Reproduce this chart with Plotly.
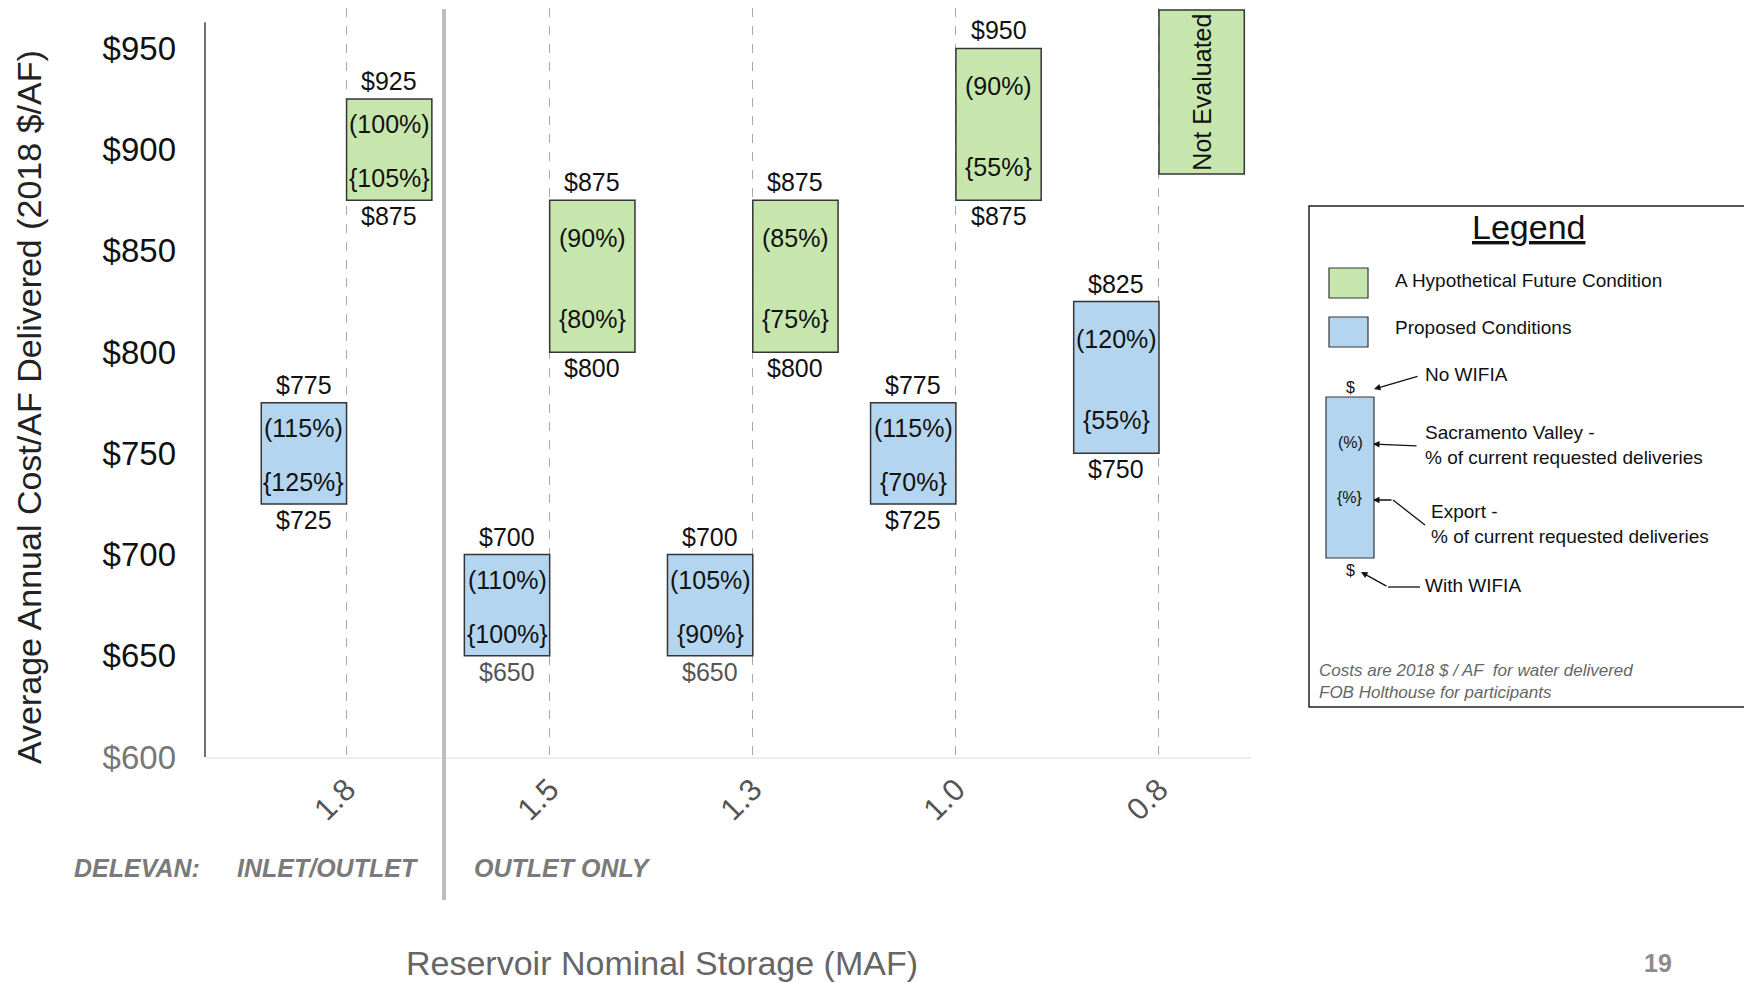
import plotly.graph_objects as go

# ---------------- data ----------------
storage_labels = ["1.8", "1.5", "1.3", "1.0", "0.8"]

# Proposed Conditions (blue): cost with WIFIA (low) / no WIFIA (high)
prop_low = [725, 650, 650, 725, 750]
prop_high = [775, 700, 700, 775, 825]
prop_sac = ["(115%)", "(110%)", "(105%)", "(115%)", "(120%)"]
prop_exp = ["{125%}", "{100%}", "{90%}", "{70%}", "{55%}"]

# A Hypothetical Future Condition (green); 0.8 MAF not evaluated
fut_storage = ["1.8", "1.5", "1.3", "1.0"]
fut_low = [875, 800, 800, 875]
fut_high = [925, 875, 875, 950]
fut_sac = ["(100%)", "(90%)", "(85%)", "(90%)"]
fut_exp = ["{105%}", "{80%}", "{75%}", "{55%}"]

not_eval_storage = ["0.8"]
not_eval_low = [888]
not_eval_high = [969]

y_ticks = [600, 650, 700, 750, 800, 850, 900, 950]

# ---------------- styling ----------------
FONT = "Liberation Sans"
GREEN = "#c6e6ad"
BLUE = "#b4d5ef"
EDGE = "#353535"
BW = 0.42  # box width in category units

W, H = 1744, 983
L, R, T, B = 205, 1251, 8, 757


def px(x):
    return (x - L) / (R - L)


def py(y):
    return (B - y) / (B - T)


xpos = {lab: i for i, lab in enumerate(storage_labels)}

fig = go.Figure()

fig.add_trace(go.Bar(
    x=[xpos[s] for s in storage_labels],
    y=[h - l for h, l in zip(prop_high, prop_low)],
    base=prop_low, width=BW, offset=-BW,
    marker=dict(color=BLUE, line=dict(color=EDGE, width=1.5)),
    showlegend=False, hoverinfo="skip"))

fig.add_trace(go.Bar(
    x=[xpos[s] for s in fut_storage],
    y=[h - l for h, l in zip(fut_high, fut_low)],
    base=fut_low, width=BW, offset=0,
    marker=dict(color=GREEN, line=dict(color=EDGE, width=1.5)),
    showlegend=False, hoverinfo="skip"))

fig.add_trace(go.Bar(
    x=[xpos[s] for s in not_eval_storage],
    y=[h - l for h, l in zip(not_eval_high, not_eval_low)],
    base=not_eval_low, width=BW, offset=0,
    marker=dict(color=GREEN, line=dict(color=EDGE, width=1.5)),
    showlegend=False, hoverinfo="skip"))

annotations = []


def ann(**kw):
    kw.setdefault("xanchor", "center")
    kw.setdefault("yanchor", "middle")
    kw.setdefault("showarrow", False)
    annotations.append(kw)


def box_labels(xc, low, high, sac, exp):
    lowcol = "#555555" if low <= 650 else "#111111"
    f = dict(family=FONT, size=25, color="#111111")
    span = high - low
    ann(x=xc, y=high, xref="x", yref="y", text=f"${high}", yshift=18, font=f)
    ann(x=xc, y=low, xref="x", yref="y", text=f"${low}", yshift=-16,
        font=dict(family=FONT, size=25, color=lowcol))
    ann(x=xc, y=high - 0.25 * span, xref="x", yref="y", text=sac, font=f)
    ann(x=xc, y=low + 0.22 * span, xref="x", yref="y", text=exp, font=f)


for s, lo, hi, sa, ex in zip(storage_labels, prop_low, prop_high, prop_sac, prop_exp):
    box_labels(xpos[s] - BW / 2, lo, hi, sa, ex)
for s, lo, hi, sa, ex in zip(fut_storage, fut_low, fut_high, fut_sac, fut_exp):
    box_labels(xpos[s] + BW / 2, lo, hi, sa, ex)
for s, lo, hi in zip(not_eval_storage, not_eval_low, not_eval_high):
    ann(x=xpos[s] + BW / 2, y=(lo + hi) / 2, xref="x", yref="y",
        text="Not Evaluated", textangle=-90,
        font=dict(family=FONT, size=25, color="#111111"))

# axis titles
ann(x=px(29), y=py(407), xref="paper", yref="paper",
    text="Average Annual Cost/AF Delivered (2018 $/AF)", textangle=-90,
    font=dict(family=FONT, size=34, color="#222222"))
ann(x=px(662), y=py(963), xref="paper", yref="paper",
    text="Reservoir Nominal Storage (MAF)",
    font=dict(family=FONT, size=34, color="#666666"))

# group labels
for txt, xc in [("DELEVAN:", 137), ("INLET/OUTLET", 328), ("OUTLET ONLY", 562)]:
    ann(x=px(xc), y=py(868), xref="paper", yref="paper",
        text=f"<b><i>{txt}</i></b>",
        font=dict(family=FONT, size=25, color="#7a7a7a"))

# ---------------- legend panel ----------------
shapes = []
shapes.append(dict(type="rect", xref="paper", yref="paper",
                   x0=px(1309), x1=px(1800), y0=py(707), y1=py(206),
                   line=dict(color="#222222", width=1.5), fillcolor="rgba(0,0,0,0)"))
ann(x=px(1528), y=py(227), xref="paper", yref="paper",
    text="<u>Legend</u>", font=dict(family=FONT, size=34, color="#111111"))
shapes.append(dict(type="rect", xref="paper", yref="paper",
                   x0=px(1329), x1=px(1368), y0=py(298), y1=py(268),
                   line=dict(color=EDGE, width=1.2), fillcolor=GREEN))
shapes.append(dict(type="rect", xref="paper", yref="paper",
                   x0=px(1329), x1=px(1368), y0=py(347), y1=py(317),
                   line=dict(color=EDGE, width=1.2), fillcolor=BLUE))
leg_font = dict(family=FONT, size=19, color="#111111")
ann(x=px(1393), y=py(280), xref="paper", yref="paper", xanchor="left",
    text="A Hypothetical Future Condition", font=leg_font)
ann(x=px(1393), y=py(327), xref="paper", yref="paper", xanchor="left",
    text="Proposed Conditions", font=leg_font)
# key diagram
shapes.append(dict(type="rect", xref="paper", yref="paper",
                   x0=px(1326), x1=px(1374), y0=py(558), y1=py(397),
                   line=dict(color=EDGE, width=1.2), fillcolor=BLUE))
small = dict(family=FONT, size=16, color="#111111")
for txt, yy in [("$", 387), ("(%)", 442), ("{%}", 497), ("$", 570)]:
    ann(x=px(1350), y=py(yy), xref="paper", yref="paper", text=txt, font=small)
ann(x=px(1423), y=py(374), xref="paper", yref="paper", xanchor="left",
    text="No WIFIA", font=leg_font)
ann(x=px(1423), y=py(445), xref="paper", yref="paper", xanchor="left",
    text="Sacramento Valley -<br>% of current requested deliveries",
    align="left", font=leg_font)
ann(x=px(1429), y=py(524), xref="paper", yref="paper", xanchor="left",
    text="Export -<br>% of current requested deliveries",
    align="left", font=leg_font)
ann(x=px(1423), y=py(585), xref="paper", yref="paper", xanchor="left",
    text="With WIFIA", font=leg_font)

arrow = dict(xref="paper", yref="paper", text="", showarrow=True, arrowhead=2,
             arrowsize=1, arrowwidth=1.3, arrowcolor="#111111", axref="pixel", ayref="pixel")
annotations.append(dict(x=px(1374), y=py(389), ax=45, ay=-13, **arrow))
annotations.append(dict(x=px(1373), y=py(444), ax=45, ay=2, **arrow))
annotations.append(dict(x=px(1373), y=py(500), ax=20, ay=0, **arrow))
annotations.append(dict(x=px(1361), y=py(572), ax=27, ay=15, **arrow))
shapes.append(dict(type="line", xref="paper", yref="paper",
                   x0=px(1393), y0=py(500), x1=px(1425), y1=py(525),
                   line=dict(color="#111111", width=1.3)))
shapes.append(dict(type="line", xref="paper", yref="paper",
                   x0=px(1388), y0=py(587), x1=px(1420), y1=py(587),
                   line=dict(color="#111111", width=1.3)))

ann(x=px(1317), y=py(681), xref="paper", yref="paper", xanchor="left",
    text="<i>Costs are 2018 $ / AF  for water delivered<br>FOB Holthouse for participants</i>",
    align="left", font=dict(family=FONT, size=17, color="#666666"))

# page number
ann(x=px(1658), y=py(963), xref="paper", yref="paper",
    text="<b>19</b>", font=dict(family=FONT, size=25, color="#8c8c8c"))

# y axis line and section separator
shapes.append(dict(type="line", xref="paper", yref="y", x0=0, x1=0, y0=600, y1=963,
                   line=dict(color="#111111", width=1.2)))
shapes.append(dict(type="line", xref="x", yref="paper", x0=0.48, x1=0.48,
                   y0=py(900), y1=py(9), line=dict(color="#bdbdbd", width=4)))

fig.update_layout(
    width=W, height=H,
    margin=dict(l=L, r=W - R, t=T, b=H - B),
    paper_bgcolor="white", plot_bgcolor="white",
    barmode="overlay",
    showlegend=False,
    annotations=annotations,
    shapes=shapes,
    font=dict(family=FONT),
    xaxis=dict(
        range=[-0.697, 4.453],
        tickmode="array", tickvals=list(range(len(storage_labels))), ticktext=storage_labels,
        tickangle=-45, tickfont=dict(family=FONT, size=31, color="#555555"),
        showgrid=True, gridcolor="#a8a8a8", griddash="dash", gridwidth=1,
        showline=True, linecolor="#eeeeee", linewidth=2,
        zeroline=False, ticks="", automargin=False,
    ),
    yaxis=dict(
        range=[600, 970],
        tickmode="array", tickvals=y_ticks,
        ticktext=[f"${v}" if v > 600 else f'<span style="color:#777777">${v}</span>' for v in y_ticks],
        tickfont=dict(family=FONT, size=33, color="#111111"),
        ticklabelstandoff=28,
        showgrid=False, zeroline=False, showline=False, ticks="", automargin=False,
    ),
)

fig.write_html("out.html")
